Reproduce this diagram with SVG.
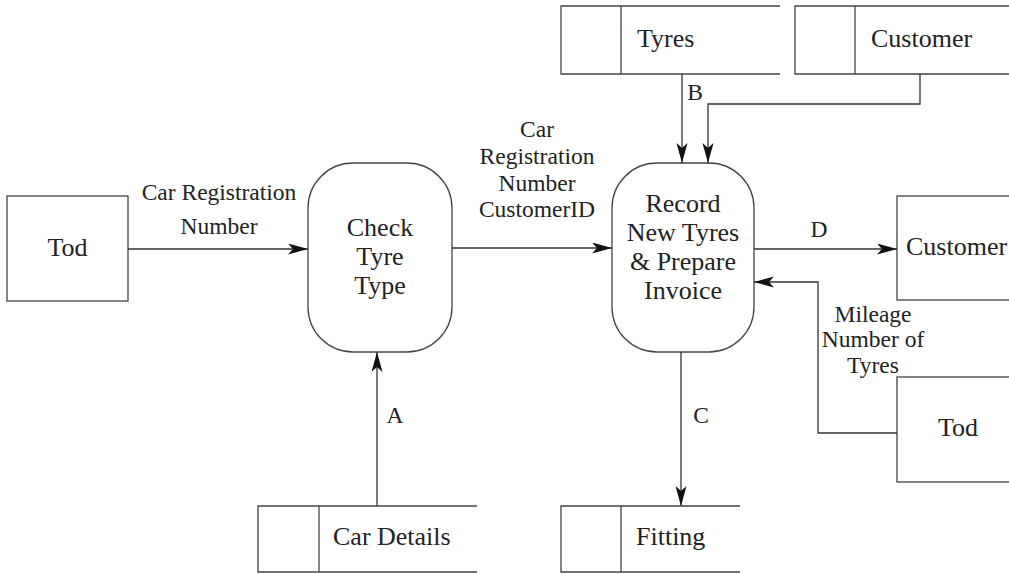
<svg xmlns="http://www.w3.org/2000/svg" width="1009" height="574" viewBox="0 0 1009 574">
<style>
.shape{fill:none;stroke:#444;stroke-width:1.3}
.conn{fill:none;stroke:#333;stroke-width:1.3}
</style>
<defs>
<marker id="arr" markerUnits="userSpaceOnUse" markerWidth="22" markerHeight="12" refX="20" refY="5.5" orient="auto">
<path d="M0,0 L20,5.5 L0,11 L5,5.5 z" fill="#111"/>
</marker>
</defs>
<rect width="1009" height="574" fill="#fff"/>
<g id="tod-left">
<rect class="shape" x="7" y="196" width="121" height="105"/>
<text style="font-family:'Liberation Serif','Times New Roman',serif !important;font-size:26px;fill:#222;text-anchor:middle" x="67.5" y="256">Tod</text>
</g>
<g id="check-tyre-type">
<rect class="shape" x="308" y="163" width="144" height="189" rx="45" ry="45"/>
<text style="font-family:'Liberation Serif','Times New Roman',serif !important;font-size:26px;fill:#222;text-anchor:middle" x="380" y="236">Check</text>
<text style="font-family:'Liberation Serif','Times New Roman',serif !important;font-size:26px;fill:#222;text-anchor:middle" x="380" y="265">Tyre</text>
<text style="font-family:'Liberation Serif','Times New Roman',serif !important;font-size:26px;fill:#222;text-anchor:middle" x="380" y="294">Type</text>
</g>
<g id="record-new-tyres">
<rect class="shape" x="612" y="163" width="142" height="189" rx="45" ry="45"/>
<text style="font-family:'Liberation Serif','Times New Roman',serif !important;font-size:26px;fill:#222;text-anchor:middle" x="683" y="212">Record</text>
<text style="font-family:'Liberation Serif','Times New Roman',serif !important;font-size:26px;fill:#222;text-anchor:middle" x="683" y="241">New Tyres</text>
<text style="font-family:'Liberation Serif','Times New Roman',serif !important;font-size:26px;fill:#222;text-anchor:middle" x="683" y="270">&amp; Prepare</text>
<text style="font-family:'Liberation Serif','Times New Roman',serif !important;font-size:26px;fill:#222;text-anchor:middle" x="683" y="299">Invoice</text>
</g>
<g id="customer-entity">
<rect class="shape" x="897" y="196" width="130" height="104"/>
<text style="font-family:'Liberation Serif','Times New Roman',serif !important;font-size:26px;fill:#222" x="906" y="255">Customer</text>
</g>
<g id="tod-right">
<rect class="shape" x="897" y="377" width="130" height="105"/>
<text style="font-family:'Liberation Serif','Times New Roman',serif !important;font-size:26px;fill:#222" x="938" y="436">Tod</text>
</g>
<g id="store-tyres">
<path class="shape" d="M780,6 H561 V74 H780 M621,6 V74"/>
<text style="font-family:'Liberation Serif','Times New Roman',serif !important;font-size:26px;fill:#222" x="637" y="47">Tyres</text>
</g>
<g id="store-customer">
<path class="shape" d="M1010,6 H795 V74 H1010 M855,6 V74"/>
<text style="font-family:'Liberation Serif','Times New Roman',serif !important;font-size:26px;fill:#222" x="871" y="47">Customer</text>
</g>
<g id="store-car-details">
<path class="shape" d="M477,506 H258 V572 H477 M319,506 V572"/>
<text style="font-family:'Liberation Serif','Times New Roman',serif !important;font-size:26px;fill:#222" x="333" y="545">Car Details</text>
</g>
<g id="store-fitting">
<path class="shape" d="M740,506 H561 V572 H740 M621,506 V572"/>
<text style="font-family:'Liberation Serif','Times New Roman',serif !important;font-size:26px;fill:#222" x="636" y="545">Fitting</text>
</g>
<g id="connectors">
<path class="conn" d="M128,249 H308" marker-end="url(#arr)"/>
<path class="conn" d="M452,248 H612" marker-end="url(#arr)"/>
<path class="conn" d="M754,249 H897" marker-end="url(#arr)"/>
<path class="conn" d="M897,433 H818 V282 H754" marker-end="url(#arr)"/>
<path class="conn" d="M682,74 V163" marker-end="url(#arr)"/>
<path class="conn" d="M920,74 V104 H708 V163" marker-end="url(#arr)"/>
<path class="conn" d="M377,506 V352" marker-end="url(#arr)"/>
<path class="conn" d="M681,352 V506" marker-end="url(#arr)"/>
<text style="font-family:'Liberation Serif','Times New Roman',serif !important;font-size:23.5px;fill:#222;text-anchor:middle" x="219" y="200">Car Registration</text>
<text style="font-family:'Liberation Serif','Times New Roman',serif !important;font-size:23.5px;fill:#222;text-anchor:middle" x="219" y="234">Number</text>
<text style="font-family:'Liberation Serif','Times New Roman',serif !important;font-size:23.5px;fill:#222;text-anchor:middle" x="537" y="137">Car</text>
<text style="font-family:'Liberation Serif','Times New Roman',serif !important;font-size:23.5px;fill:#222;text-anchor:middle" x="537" y="164">Registration</text>
<text style="font-family:'Liberation Serif','Times New Roman',serif !important;font-size:23.5px;fill:#222;text-anchor:middle" x="537" y="191">Number</text>
<text style="font-family:'Liberation Serif','Times New Roman',serif !important;font-size:23.5px;fill:#222;text-anchor:middle" x="537" y="217">CustomerID</text>
<text style="font-family:'Liberation Serif','Times New Roman',serif !important;font-size:23.5px;fill:#222;text-anchor:middle" x="695" y="100">B</text>
<text style="font-family:'Liberation Serif','Times New Roman',serif !important;font-size:23.5px;fill:#222;text-anchor:middle" x="819" y="237">D</text>
<text style="font-family:'Liberation Serif','Times New Roman',serif !important;font-size:23.5px;fill:#222;text-anchor:middle" x="873" y="322">Mileage</text>
<text style="font-family:'Liberation Serif','Times New Roman',serif !important;font-size:23.5px;fill:#222;text-anchor:middle" x="873" y="347">Number of</text>
<text style="font-family:'Liberation Serif','Times New Roman',serif !important;font-size:23.5px;fill:#222;text-anchor:middle" x="873" y="373">Tyres</text>
<text style="font-family:'Liberation Serif','Times New Roman',serif !important;font-size:23.5px;fill:#222;text-anchor:middle" x="395" y="423">A</text>
<text style="font-family:'Liberation Serif','Times New Roman',serif !important;font-size:23.5px;fill:#222;text-anchor:middle" x="701" y="423">C</text>
</g>
</svg>
